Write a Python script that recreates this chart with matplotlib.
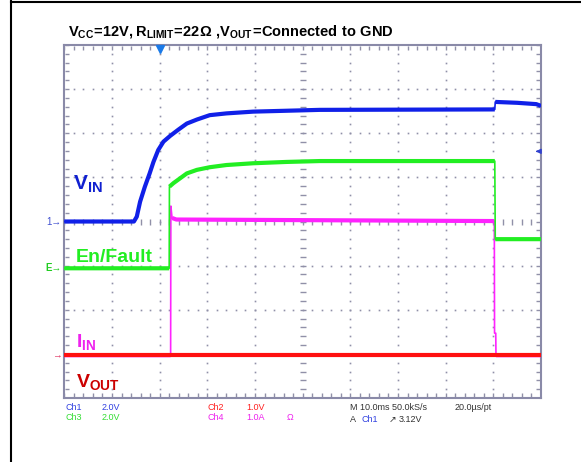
import numpy as np
import matplotlib.pyplot as plt

plt.rcParams['font.family'] = ['Liberation Sans', 'DejaVu Sans']
plt.rcParams['mathtext.fontset'] = 'custom'
plt.rcParams['mathtext.rm'] = 'Liberation Sans'
plt.rcParams['mathtext.bf'] = 'Liberation Sans:bold'

# vreme u ms (10 ms/div), vrednosti u podeocima ekrana osciloskopa
t_vin = [0, 14.6, 15.2, 15.9, 16.9, 17.9, 18.7, 19.7, 20.8, 22.2, 23.9, 25.7, 27.8, 30.5, 34.0,
         39.6, 46.6, 53.6, 90.3, 90.4, 95.0, 99.0, 100]
d_vin = [0.0, 0.0, 0.11, 0.45, 0.79, 1.09, 1.35, 1.62, 1.81, 1.94, 2.08, 2.22, 2.31, 2.41, 2.45,
         2.49, 2.51, 2.53, 2.54, 2.71, 2.69, 2.66, 2.62]

t_en = [0, 22.0, 22.05, 22.9, 24.3, 25.7, 27.8, 30.5, 34.0, 39.6, 46.6, 53.6, 90.3, 90.4, 100]
d_en = [-1.06, -1.06, 0.79, 0.87, 0.98, 1.09, 1.17, 1.23, 1.28, 1.32, 1.35, 1.37, 1.37, -0.40, -0.40]

t_iin = [0, 22.3, 22.35, 22.6, 23.5, 90.2, 90.25, 90.5, 90.55, 100]
d_iin = [-3.03, -3.03, 0.35, 0.08, 0.045, 0.01, -2.53, -2.53, -3.03, -3.03]

t_vout = [0, 100]
d_vout = [-3.03, -3.03]


def bez_skokova(t, d):
    # ubacujemo NaN na vertikalnim skokovima da deblja linija ide samo po ravnim delovima
    t = np.array(t, float)
    d = np.array(d, float)
    tt, dd = [t[0]], [d[0]]
    for i in range(1, len(t)):
        if t[i] - t[i - 1] < 0.3:
            tt.append(np.nan)
            dd.append(np.nan)
        tt.append(t[i])
        dd.append(d[i])
    return np.array(tt), np.array(dd)


fig = plt.figure(figsize=(5.81, 4.62), dpi=100)
ax = fig.add_axes([0.1107, 0.1385, 0.8205, 0.7641])
ax.set_xlim(0, 100)
ax.set_ylim(-4, 4)
ax.set_xticks([])
ax.set_yticks([])
for s in ax.spines.values():
    s.set_color('#8a8aa8')
    s.set_linewidth(1.5)

## graticule ###################
gc = '#9090a8'
minor = np.arange(-4, 4.01, 0.2)
minor_x = np.arange(0, 100.1, 2)
for k in range(1, 10):
    if k == 5:
        continue
    ax.plot(np.full_like(minor, k * 10), minor, ls='none', marker='s', ms=1.2, color=gc, mew=0)
for k in range(-3, 4):
    if k == 0:
        continue
    ax.plot(minor_x, np.full_like(minor_x, k), ls='none', marker='s', ms=1.2, color=gc, mew=0)
# centralni krst i ivice sa crticama
ax.plot(np.full_like(minor, 50), minor, ls='none', marker='_', ms=5, color=gc, mew=1)
ax.plot(minor_x, np.zeros_like(minor_x), ls='none', marker='|', ms=5, color=gc, mew=1)
ax.plot(np.full_like(minor, 0.6), minor, ls='none', marker='_', ms=3, color=gc, mew=1)
ax.plot(np.full_like(minor, 99.4), minor, ls='none', marker='_', ms=3, color=gc, mew=1)
ax.plot(minor_x, np.full_like(minor_x, 3.93), ls='none', marker='|', ms=3, color=gc, mew=1)
ax.plot(minor_x, np.full_like(minor_x, -3.93), ls='none', marker='|', ms=3, color=gc, mew=1)

## trase ###################
traces = [
    (t_iin, d_iin, '#ff22ff', 4),
    (t_en, d_en, '#22ee22', 4),
    (t_vout, d_vout, '#ff1010', 5),
    (t_vin, d_vin, '#1020e8', 6),
]
for t, d, c, z in traces:
    ax.plot(t, d, color=c, lw=1.2, zorder=z)
    tt, dd = bez_skokova(t, d)
    ax.plot(tt, dd, color=c, lw=3.0, zorder=z, solid_capstyle='butt')

## oznake kanala ###################
ax.text(-0.5, 0, '1\u2192', color='#4050d0', fontsize=7, ha='right', va='center', clip_on=False)
ax.text(-0.5, -1.06, 'E\u2192', color='#22cc22', fontsize=7, fontweight='bold', ha='right', va='center', clip_on=False)
ax.text(-0.5, -3.03, '\u2192', color='#e03060', fontsize=7, ha='right', va='center', clip_on=False)
ax.plot([20], [3.92], marker='v', ms=6, color='#1a7ae8', clip_on=False, zorder=7)
ax.annotate('', xy=(98.3, 1.59), xytext=(100, 1.59),
            arrowprops=dict(arrowstyle='-|>', color='#3040d0', lw=1, mutation_scale=7))

ax.text(1.8, 0.72, r'$\mathbf{V_{IN}}$', color='#1020d0', fontsize=15)
ax.text(2.5, -0.92, 'En/Fault', color='#22ee22', fontsize=14, fontweight='bold')
ax.text(2.5, -2.85, r'$\mathbf{I_{IN}}$', color='#ee22ee', fontsize=14)
ax.text(2.5, -3.75, r'$\mathbf{V_{OUT}}$', color='#cc0000', fontsize=14)

fig.text(68 / 581, 1 - 31 / 462,
         r'$\mathbf{V_{CC}\!=\!12V, R_{LIMIT}\!=\!22\Omega\ {,}V_{OUT}\!=\!Connected\ to\ GND}$',
         fontsize=10.5, va='center', ha='left')

## donji tekst ###################
fs = 6.5


def ft(x, y, s, c):
    fig.text(x / 581, 1 - y / 462, s, color=c, fontsize=fs, va='center', ha='left')


ft(65, 408, 'Ch1', '#3040e0')
ft(102, 408, '2.0V', '#3040e0')
ft(65, 418, 'Ch3', '#33dd33')
ft(102, 418, '2.0V', '#33dd33')
ft(207, 408, 'Ch2', '#ff2020')
ft(246, 408, '1.0V', '#ff2020')
ft(207, 418, 'Ch4', '#ee22ee')
ft(246, 418, '1.0A', '#ee22ee')
ft(287, 418, '\u03a9', '#ee22ee')
ft(350, 408, 'M 10.0ms 50.0kS/s', '#333333')
ft(455, 408, '20.0\u00b5s/pt', '#333333')
ft(350, 419, 'A', '#333333')
ft(362, 419, 'Ch1', '#3040e0')
ft(389, 419, '\u2197', '#333333')
ft(399, 419, '3.12V', '#333333')

# okvir slike
fig.add_artist(plt.Line2D([11 / 581, 11 / 581], [0, 1], color='black', lw=1.5))
fig.add_artist(plt.Line2D([11 / 581, 1], [1 - 1.5 / 462, 1 - 1.5 / 462], color='black', lw=1.5))

fig.savefig('out.png', dpi=100)
